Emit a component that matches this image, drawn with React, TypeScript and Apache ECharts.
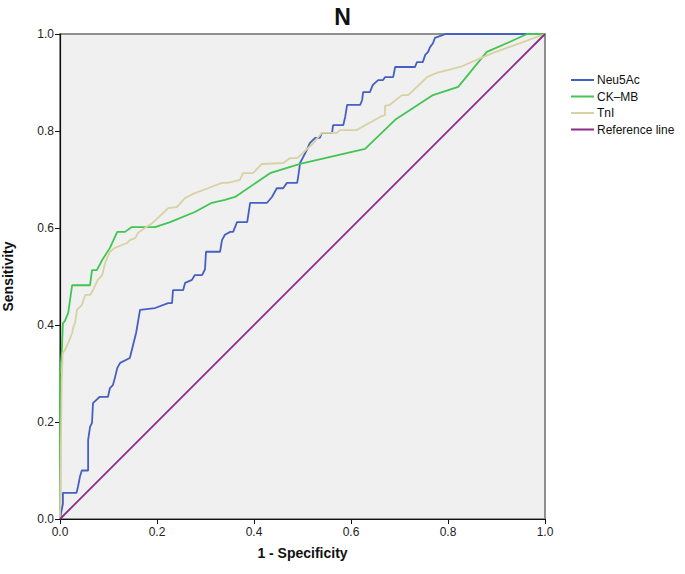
import React, { useEffect, useRef } from "react";
import * as echarts from "echarts";

const titleText = "N";
const xTicks = [0, 0.2, 0.4, 0.6, 0.8, 1.0];
const seriesNames = ["Neu5Ac", "CK\u2013MB", "TnI", "Reference line"];
const seriesColors = ["#4560c0", "#42c552", "#d8d1a2", "#8a2c8c"];

const neu5Ac: number[][] = [
  [0, 0], [0.0035, 0.019], [0.006, 0.031], [0.006, 0.054], [0.034, 0.054], [0.037, 0.066],
  [0.041, 0.087], [0.045, 0.1], [0.058, 0.1], [0.058, 0.163], [0.062, 0.19], [0.066, 0.198],
  [0.068, 0.239], [0.082, 0.252], [0.099, 0.252], [0.103, 0.27], [0.109, 0.276], [0.113, 0.29],
  [0.118, 0.311], [0.124, 0.322], [0.144, 0.332], [0.148, 0.348], [0.157, 0.384], [0.165, 0.431],
  [0.196, 0.435], [0.223, 0.445], [0.231, 0.445], [0.233, 0.472], [0.254, 0.472], [0.258, 0.487],
  [0.272, 0.493], [0.278, 0.503], [0.293, 0.503], [0.299, 0.515], [0.301, 0.551], [0.33, 0.551],
  [0.334, 0.575], [0.34, 0.586], [0.351, 0.592], [0.357, 0.592], [0.365, 0.612], [0.386, 0.612],
  [0.392, 0.652], [0.427, 0.652], [0.437, 0.664], [0.447, 0.682], [0.46, 0.682], [0.468, 0.693],
  [0.489, 0.693], [0.491, 0.705], [0.495, 0.734], [0.509, 0.761], [0.515, 0.775], [0.526, 0.786],
  [0.536, 0.786], [0.54, 0.796], [0.561, 0.796], [0.563, 0.812], [0.584, 0.812], [0.588, 0.829],
  [0.592, 0.854], [0.619, 0.854], [0.623, 0.864], [0.625, 0.88], [0.639, 0.88], [0.645, 0.895],
  [0.656, 0.905], [0.666, 0.905], [0.67, 0.911], [0.687, 0.911], [0.691, 0.932], [0.732, 0.932],
  [0.736, 0.942], [0.748, 0.942], [0.753, 0.957], [0.759, 0.963], [0.763, 0.973], [0.769, 0.981],
  [0.773, 0.992], [0.79, 0.998], [0.794, 1], [1, 1],
];

const ckMB: number[][] = [
  [0, 0], [0, 0.3], [0.0035, 0.342], [0.006, 0.404], [0.01, 0.408], [0.017, 0.425], [0.025, 0.482],
  [0.062, 0.482], [0.066, 0.513], [0.076, 0.513], [0.087, 0.534], [0.103, 0.559], [0.118, 0.592],
  [0.134, 0.592], [0.148, 0.602], [0.196, 0.602], [0.227, 0.612], [0.278, 0.633], [0.313, 0.652],
  [0.34, 0.658], [0.361, 0.664], [0.433, 0.713], [0.495, 0.732], [0.629, 0.763], [0.691, 0.823],
  [0.769, 0.874], [0.821, 0.891], [0.88, 0.963], [0.928, 0.984], [0.963, 1], [1, 1],
];

const tnI: number[][] = [
  [0, 0], [0.0035, 0.283], [0.0055, 0.342], [0.01, 0.348], [0.017, 0.363], [0.025, 0.383],
  [0.027, 0.394], [0.031, 0.404], [0.035, 0.431], [0.045, 0.441], [0.052, 0.462], [0.062, 0.462],
  [0.068, 0.472], [0.078, 0.493], [0.087, 0.503], [0.093, 0.528], [0.103, 0.551], [0.113, 0.559],
  [0.128, 0.565], [0.138, 0.569], [0.144, 0.575], [0.155, 0.579], [0.161, 0.59], [0.175, 0.6],
  [0.19, 0.61], [0.202, 0.621], [0.223, 0.641], [0.241, 0.643], [0.258, 0.662], [0.278, 0.672],
  [0.305, 0.682], [0.334, 0.693], [0.344, 0.693], [0.355, 0.695], [0.371, 0.699], [0.377, 0.713],
  [0.398, 0.713], [0.416, 0.732], [0.46, 0.734], [0.474, 0.744], [0.489, 0.744], [0.501, 0.755],
  [0.522, 0.775], [0.54, 0.796], [0.571, 0.796], [0.577, 0.802], [0.612, 0.802], [0.619, 0.806],
  [0.66, 0.829], [0.67, 0.833], [0.67, 0.852], [0.68, 0.854], [0.705, 0.874], [0.718, 0.874],
  [0.757, 0.911], [0.777, 0.92], [0.825, 0.932], [0.893, 0.961], [1, 1],
];

const referenceLine: number[][] = [[0, 0], [1, 1]];

const allData = [neu5Ac, ckMB, tnI, referenceLine];

const FONT = "'Liberation Sans', Arial, sans-serif";

export default function App() {
  const ref = useRef<HTMLDivElement>(null);
  useEffect(() => {
    if (!ref.current) return;
    const chart = echarts.init(ref.current, undefined, { renderer: "svg" });
    const axisCommon = {
      type: "value" as const,
      min: 0,
      max: 1,
      interval: 0.2,
      splitLine: { show: false },
      axisLine: { show: true, onZero: false, lineStyle: { color: "#111", width: 1.2 } },
      axisTick: { show: true, inside: false, length: 5, lineStyle: { color: "#111" } },
      axisLabel: {
        color: "#222",
        fontSize: 12,
        fontFamily: FONT,
        formatter: (v: number) => v.toFixed(1),
      },
      nameLocation: "middle" as const,
      nameTextStyle: { fontSize: 14, fontWeight: "bold", color: "#111", fontFamily: FONT },
    };
    chart.setOption({
      animation: false,
      backgroundColor: "#ffffff",
      title: {
        text: titleText,
        left: "center",
        top: 0,
        textStyle: { fontSize: 23, fontWeight: "bold", color: "#111", fontFamily: FONT },
      },
      grid: {
        left: 60,
        right: 140,
        top: 34,
        bottom: 55,
        containLabel: false,
        outerBoundsMode: "none",
        show: true,
        backgroundColor: "#f0f0f0",
        borderColor: "#6e6e6e",
        borderWidth: 1.5,
      },
      legend: {
        orient: "vertical",
        left: 566,
        top: 69,
        itemWidth: 23,
        itemHeight: 2,
        itemGap: 4.5,
        icon: "rect",
        textStyle: { fontSize: 12, color: "#111", fontFamily: FONT, padding: [0, 0, 0, -2] },
        data: seriesNames,
      },
      xAxis: {
        ...axisCommon,
        name: "1 - Specificity",
        nameGap: 27,
        axisLabel: { ...axisCommon.axisLabel, margin: 7 },
      },
      yAxis: {
        ...axisCommon,
        name: "Sensitivity",
        nameGap: 45,
        axisLabel: { ...axisCommon.axisLabel, margin: 6 },
      },
      series: allData.map((d, i) => ({
        name: seriesNames[i],
        type: "line",
        data: d,
        symbol: "none",
        showSymbol: false,
        clip: true,
        lineStyle: { color: seriesColors[i], width: 1.8 },
        itemStyle: { color: seriesColors[i] },
        z: 3 + i,
      })),
    });
    return () => chart.dispose();
  }, []);
  return (
    <div
      ref={ref}
      style={{ position: "fixed", left: 0, top: 0, width: 685, height: 574 }}
    />
  );
}
